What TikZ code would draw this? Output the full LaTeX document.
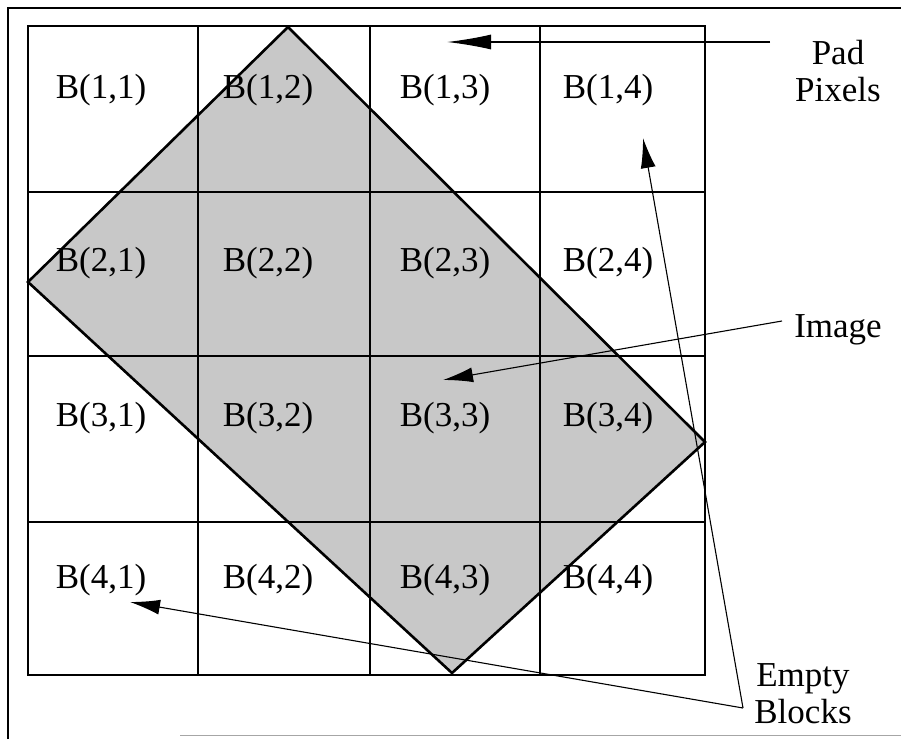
\documentclass[tikz,border=0pt]{standalone}
\usepackage{fontspec}
\setmainfont{Liberation Serif}
\usetikzlibrary{arrows.meta}
\definecolor{imggray}{RGB}{200,200,200}
\tikzset{
  cell/.style={font=\fontsize{35}{40}\selectfont, inner sep=0pt},
  lab/.style={font=\fontsize{35}{40}\selectfont, inner sep=0pt, align=center},
  gridline/.style={line width=1.6pt, black},
  imgedge/.style={line width=2.6pt, black},
  arr/.style={line width=1.1pt, -{Latex[length=30pt,width=15pt]}},
  longarr/.style={line width=1.3pt, -{Latex[length=44pt,width=15pt]}},
}
\begin{document}
\begin{tikzpicture}[x=1pt,y=-1pt]
\useasboundingbox (0,0) rectangle (901,739);
\fill[white] (0,0) rectangle (901,739);
% outer frame
\draw[line width=1.4pt] (8,739) -- (8,8) -- (901,8);
\draw[line width=1pt, black!35] (180,735) -- (901,735);
% rotated image
\coordinate (it) at (288,27);
\coordinate (il) at (28,282);
\coordinate (ib) at (452,673);
\coordinate (ir) at (705,442);
\fill[imggray] (it) -- (ir) -- (ib) -- (il) -- cycle;
% grid
\draw[gridline] (28,26) rectangle (705,675);
\foreach \x in {198,370,540} \draw[gridline] (\x,26) -- (\x,675);
\draw[line width=2.2pt] (28,192) -- (705,192);
\draw[line width=2.2pt] (28,356) -- (705,356);
\draw[line width=2.2pt] (28,522) -- (705,522);
\draw[imgedge, line join=miter] (it) -- (ir) -- (ib) -- (il) -- cycle;
% cell labels
\foreach \r/\y in {1/90,2/263,3/418,4/580}{
  \foreach \c/\x in {1/101,2/268,3/445,4/608}{
    \node[cell] (b\r\c) at (\x,\y) {B(\r,\c)};
  }
}
% side labels
\node[lab] (pad) at (838,71) {Pad\\[-3pt]Pixels};
\node[lab] (image) at (838,330) {Image};
\node[lab] (empty) at (803,694) {Empty\\[-3pt]Blocks};
% connectors
\coordinate (padstart) at (770,42);
\coordinate (padtip) at (447,42);
\coordinate (imgstart) at (782,321);
\coordinate (imgtip) at (443,380);
\coordinate (emptyjoin) at (743,708);
\coordinate (etip1) at (643,138);
\coordinate (etip2) at (130,602);
\draw[longarr] (padstart) -- (padtip);
\draw[arr] (imgstart) -- (imgtip);
\draw[arr] (emptyjoin) -- (etip1);
\draw[arr] (emptyjoin) -- (etip2);
\end{tikzpicture}
\end{document}
